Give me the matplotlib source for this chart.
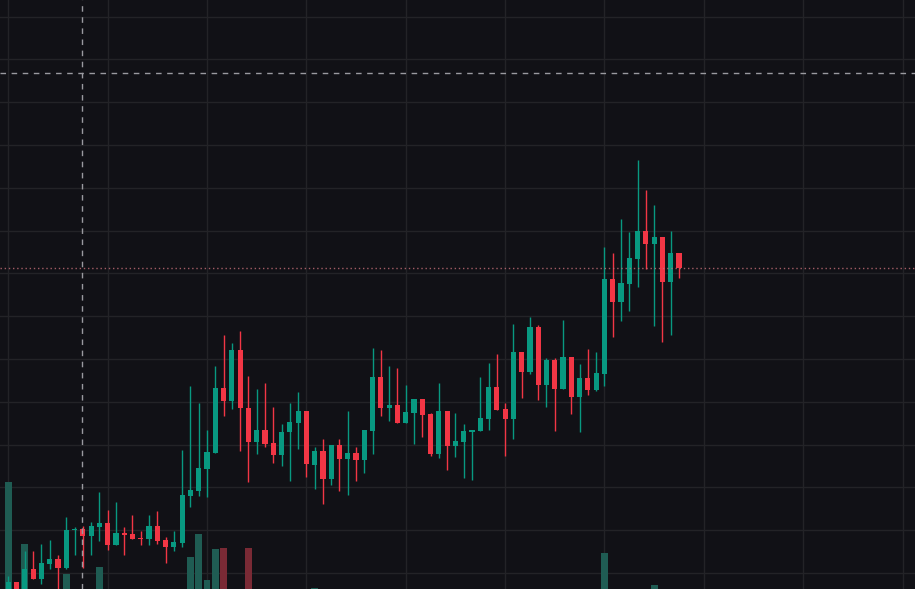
import matplotlib
matplotlib.use("Agg")
import matplotlib.pyplot as plt
import numpy as np

# OHLC (pixel-height units: price = 589 - y)
Y_open  = [589,582,589,569,579,564,559,568,530,529,536,527,523,545,533,534,538,539,526,540,547,543,496,491,469,453,388,401,350,408,442,430,443,455,432,423,411,465,451,479,445,459,
           453,460,431,377,408,405,423,413,399,414,454,411,446,442,432,431,419,387,409,419,352,372,327,385,360,389,357,397,378,390,374,279,302,284,259,231,244,237,282,253]
Y_close = [582,589,569,579,563,559,568,530,529,536,526,523,545,533,535,539,539,526,541,547,542,495,490,468,452,388,401,350,408,442,430,444,455,432,422,411,464,451,479,445,459,453,
           460,430,377,408,405,423,412,399,415,454,411,446,441,431,430,418,387,410,419,352,372,327,385,360,389,357,397,378,390,373,279,302,283,258,231,244,237,282,253,268]
Y_high  = [576,582,551,551,544,540,555,517,527,526,522,492,510,502,527,515,531,515,511,537,531,450,386,403,430,366,335,343,331,376,389,383,407,424,403,392,411,447,439,445,439,411,
           447,430,348,350,366,368,385,399,399,413,383,411,413,424,430,377,363,354,403,324,352,317,325,358,358,320,357,364,349,352,247,253,219,232,160,190,205,237,231,253]
Y_low   = [589,589,589,579,584,569,589,569,555,568,555,541,550,545,555,539,545,545,544,563,551,547,507,496,497,453,416,409,451,482,454,447,463,466,481,449,477,489,504,485,491,495,
           481,473,454,416,421,423,423,444,437,456,458,470,457,478,480,431,430,410,456,439,398,374,400,407,431,389,414,432,395,391,386,337,321,311,287,269,326,342,335,278]
vol_idx = [0, 2, 7, 11, 22, 23, 24, 25, 26, 29, 37, 72, 78]
vol_top = [482, 544, 574, 567, 557, 534, 580, 549, 548, 548, 588, 553, 585]

o = 589 - np.array(Y_open, float); c = 589 - np.array(Y_close, float)
h = 589 - np.array(Y_high, float); l = 589 - np.array(Y_low, float)
n = len(o); x = np.arange(n)

BG = "#111116"; GRID = "#232327"; UP = "#089981"; DN = "#f23645"
fig = plt.figure(figsize=(9.15, 5.89), dpi=100, facecolor=BG)
ax = fig.add_axes([0, 0, 1, 1], facecolor=BG)
ax.set_xlim(-8.3/8.28, (915-8.3)/8.28)
ax.set_ylim(0, 589)
for s in ax.spines.values(): s.set_visible(False)
ax.set_xticks([]); ax.set_yticks([])

for gx in range(0, 110, 12):
    ax.axvline(gx, color=GRID, lw=1, zorder=0)
for gy in np.arange(16, 589, 42.8):
    ax.axhline(gy, color=GRID, lw=1, zorder=0)

# volume
for i, t in zip(vol_idx, vol_top):
    col = "#1f5c53" if c[i] >= o[i] else "#7a2a35"
    ax.bar(i, (589 - t) + 20, bottom=-20, width=0.82, color=col, zorder=1)

up = c >= o
cols = np.where(up, UP, DN)
ax.vlines(x, l, h, colors=cols, lw=1, zorder=2)
bot = np.minimum(o, c); ht = np.maximum(np.abs(c - o), 1)
ax.bar(x, ht, bottom=bot, width=0.62, color=cols, zorder=3)

# price line and crosshair
ax.axhline(589 - 267.5, color="#c9707a", lw=1, ls=(0, (1, 2)), zorder=4, alpha=0.8)
ax.axvline((82 - 8.3)/8.28, color="#9a9aa0", lw=1, ls=(0, (4, 4)), zorder=5)
ax.axhline(589 - 73, color="#9a9aa0", lw=1, ls=(0, (4, 4)), zorder=5)

fig.savefig("out.png", dpi=100, facecolor=BG)
